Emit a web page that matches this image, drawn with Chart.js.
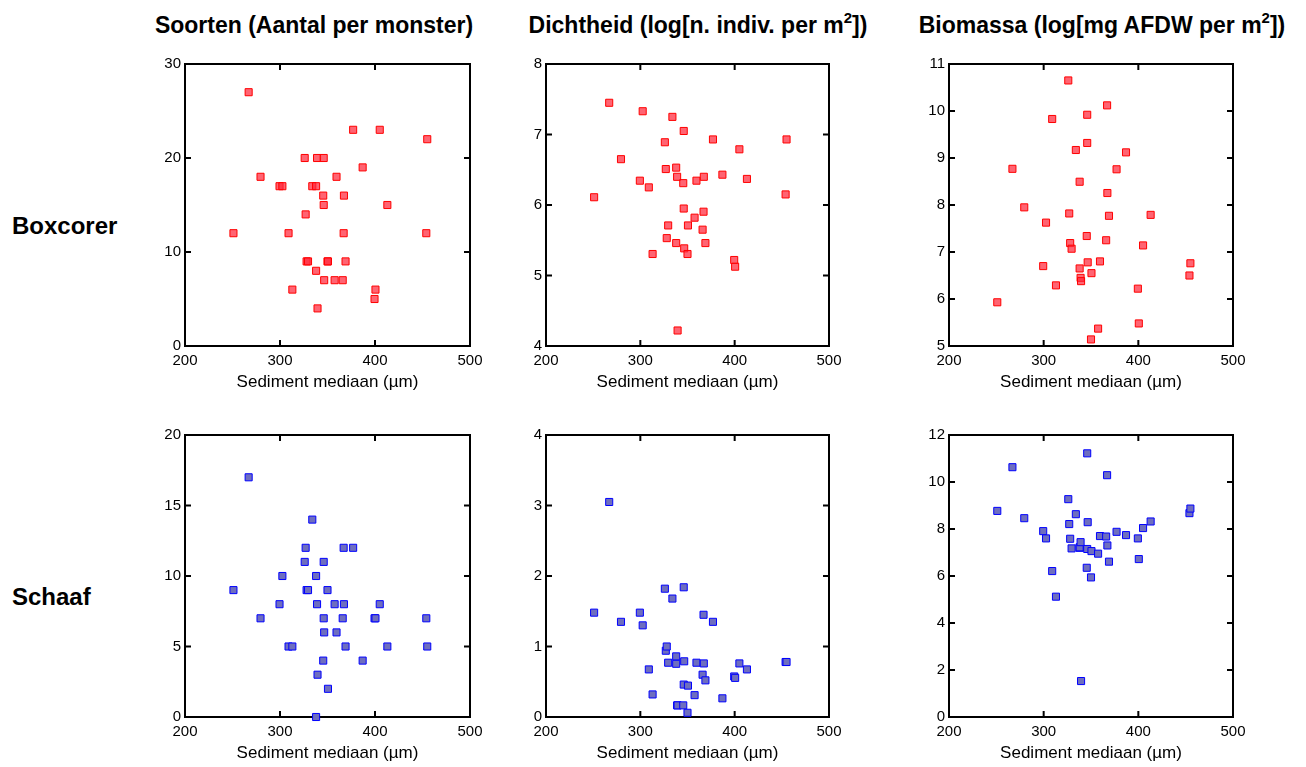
<!DOCTYPE html>
<html>
<head>
<meta charset="utf-8">
<script src="https://cdn.jsdelivr.net/npm/chart.js@4/dist/chart.umd.min.js"></script>
<style>
  body { margin: 0; background: #fff; width: 1306px; height: 767px; position: relative; overflow: hidden; }
  .head, .row { position: absolute; font-family: "Liberation Sans", Arial, sans-serif; font-weight: bold; color: #000; white-space: nowrap; line-height: 28px; }
  .head { font-size: 23px; top: 11px; transform: translateX(-50%); }
  .row { font-size: 24px; left: 12px; }
  .head sup { font-size: 15px; line-height: 0; position: relative; top: -1px; }
  canvas { position: absolute; }
</style>
</head>
<body>
<div class="head" style="left:314px">Soorten (Aantal per monster)</div>
<div class="head" style="left:698px">Dichtheid (log[n. indiv. per m<sup>2</sup>])</div>
<div class="head" style="left:1102px">Biomassa (log[mg AFDW per m<sup>2</sup>])</div>
<div class="row" style="top:212px">Boxcorer</div>
<div class="row" style="top:583px">Schaaf</div>

<canvas id="c0"></canvas>
<canvas id="c1"></canvas>
<canvas id="c2"></canvas>
<canvas id="c3"></canvas>
<canvas id="c4"></canvas>
<canvas id="c5"></canvas>

<script>
// sediment median per station (µm), shared by all six panels
const mediaan = [251, 267, 279.5, 299.5, 302.5, 309, 313, 326, 327, 328, 329.5, 334, 338, 338, 339, 339.5,
  345.5, 346, 346, 346.5, 350, 350.5, 357.5, 359.5, 366, 367, 367.3, 369, 377, 387, 399.5, 400.5, 405, 413, 454, 455];

// boxcorer samples
const boxSoorten = [12, 27, 18, 17, 17, 12, 6, 20, 14, 9, 9, 17, 17, 8, 20, 4,
  16, 15, 20, 7, 9, 9, 7, 18, 7, 12, 16, 9, 23, 19, 5, 6, 23, 15, 12, 22];
const boxDichtheid = [6.11, 7.45, 6.65, 6.345, 7.33, 6.25, 5.305, 6.89, 6.51, 5.53, 5.71, 7.25, 6.53, 5.46, 6.40, 4.22,
  6.31, 5.95, 7.05, 5.385, 5.305, 5.71, 5.82, 6.345, 5.65, 5.905, 6.40, 5.46, 6.93, 6.43, 5.22, 5.125, 6.79, 6.37, 6.15, 6.93];
const boxBiomassa = [5.93, 8.77, 7.95, 6.70, 7.625, 9.83, 6.29, 10.65, 7.82, 7.19, 7.07, 9.17, 8.495, 6.65, 6.45, 6.38,
  7.34, 9.92, 9.32, 6.78, 5.14, 6.55, 5.37, 6.80, 7.25, 10.12, 8.255, 7.77, 8.76, 9.12, 6.22, 5.48, 7.14, 7.79, 6.50, 6.76];

// schaaf (dredge) samples
const schaafSoorten = [9, 17, 7, 8, 10, 5, 5, 11, 12, 9, 9, 14, 10, 0, 8, 3,
  4, 7, 11, 6, 9, 2, 8, 6, 7, 12, 8, 5, 12, 4, 7, 7, 8, 5, 7, 5];
const schaafDichtheid = [1.48, 3.05, 1.35, 1.48, 1.30, 0.675, 0.32, 1.82, 0.94, 1.00, 0.77, 1.68, 0.755, 0.86, 0.165, 0.165,
  0.165, 0.46, 1.84, 0.79, 0.06, 0.445, 0.31, 0.77, 0.60, 1.45, 0.76, 0.52, 1.35, 0.265, 0.575, 0.555, 0.76, 0.675, 0.78, 0.78];
const schaafBiomassa = [8.77, 10.63, 8.46, 7.91, 7.60, 6.21, 5.12, 9.27, 8.21, 7.585, 7.175, 8.63, 7.20, 7.22, 7.44, 1.53,
  6.35, 7.15, 11.22, 8.29, 5.94, 7.06, 6.95, 7.70, 7.68, 10.29, 7.30, 6.61, 7.88, 7.74, 7.60, 6.72, 8.04, 8.32, 8.675, 8.87];

// axis ranges: [min, max, step]
const xRange = [200, 500, 100];
const yRanges = [[0, 30, 10], [4, 8, 1], [5, 11, 1], [0, 20, 5], [0, 4, 1], [0, 12, 2]];
const series = [boxSoorten, boxDichtheid, boxBiomassa, schaafSoorten, schaafDichtheid, schaafBiomassa];

const xTitle = "Sediment mediaan (µm)";

const cols = [{ left: 185, w: 285 }, { left: 546, w: 283 }, { left: 949, w: 284 }];
const rows = [{ top: 63, h: 283 }, { top: 434, h: 283 }];
const PAD_L = 50, PAD_T = 12, PAD_R = 22, PAD_B = 52;

const red = { fill: "rgba(255, 40, 60, 0.72)", line: "#ff0000" };
const blue = { fill: "#6e6ebf", line: "#0000ff" };

// box around the plot with inward ticks on all four sides
const frame = {
  id: "frame",
  beforeDatasetsDraw(chart) {
    const { ctx, chartArea: a, scales } = chart;
    const len = 6;
    ctx.save();
    ctx.strokeStyle = "#000";
    ctx.lineWidth = 2;
    ctx.beginPath();
    scales.x.ticks.forEach(t => {
      const px = scales.x.getPixelForValue(t.value);
      ctx.moveTo(px, a.bottom); ctx.lineTo(px, a.bottom - len);
      ctx.moveTo(px, a.top); ctx.lineTo(px, a.top + len);
    });
    scales.y.ticks.forEach(t => {
      const py = scales.y.getPixelForValue(t.value);
      ctx.moveTo(a.left, py); ctx.lineTo(a.left + len, py);
      ctx.moveTo(a.right, py); ctx.lineTo(a.right - len, py);
    });
    ctx.stroke();
    ctx.strokeRect(a.left, a.top, a.right - a.left, a.bottom - a.top);
    ctx.restore();
  }
};

const tickFont = { family: "'Liberation Sans', Arial, sans-serif", size: 15 };
const titleFont = { family: "'Liberation Sans', Arial, sans-serif", size: 17 };

series.forEach((ys, i) => {
  const col = cols[i % 3];
  const row = rows[Math.floor(i / 3)];
  const colour = i < 3 ? red : blue;
  const [ymin, ymax, ystep] = yRanges[i];

  const canvas = document.getElementById("c" + i);
  canvas.width = PAD_L + col.w + PAD_R;
  canvas.height = PAD_T + row.h + PAD_B;
  canvas.style.left = (col.left - PAD_L) + "px";
  canvas.style.top = (row.top - PAD_T) + "px";

  new Chart(canvas, {
    type: "scatter",
    data: {
      datasets: [{
        data: mediaan.map((x, k) => ({ x: x, y: ys[k] })),
        pointStyle: "rect",
        pointRadius: 5,
        pointHoverRadius: 5,
        pointBackgroundColor: colour.fill,
        pointBorderColor: colour.line,
        pointBorderWidth: 1,
        clip: false
      }]
    },
    options: {
      responsive: false,
      animation: false,
      devicePixelRatio: 1,
      layout: { padding: { top: PAD_T, right: PAD_R, left: 0, bottom: 0 } },
      plugins: { legend: { display: false }, tooltip: { enabled: false } },
      scales: {
        x: {
          type: "linear",
          min: xRange[0], max: xRange[1],
          grid: { display: false, drawTicks: false },
          border: { display: false },
          ticks: { stepSize: xRange[2], color: "#000", font: tickFont, padding: 6, maxRotation: 0 },
          title: { display: true, text: xTitle, color: "#000", font: titleFont, padding: { top: 0, bottom: 5 } },
          afterFit(s) { s.height = PAD_B; }
        },
        y: {
          type: "linear",
          min: ymin, max: ymax,
          grid: { display: false, drawTicks: false },
          border: { display: false },
          ticks: { stepSize: ystep, color: "#000", font: tickFont, padding: 4 },
          afterFit(s) { s.width = PAD_L; }
        }
      }
    },
    plugins: [frame]
  });
});
</script>
</body>
</html>
